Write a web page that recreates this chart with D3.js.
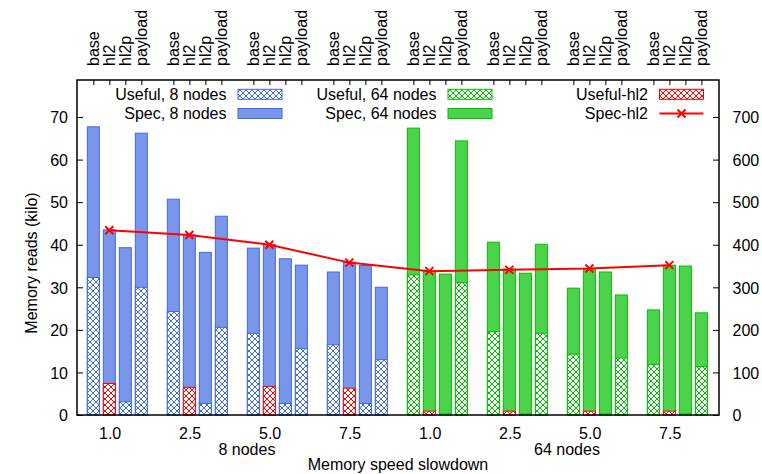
<!DOCTYPE html>
<html>
<head>
<meta charset="utf-8">
<script src="https://cdn.jsdelivr.net/npm/d3@7"></script>
<style>
  html, body { margin: 0; padding: 0; background: #fff; }
  svg text { font-family: "Liberation Sans", Arial, Helvetica, sans-serif; font-size: 16px; fill: #000; }
</style>
</head>
<body>
<svg id="chart" width="762" height="474"></svg>
<script>
// Memory reads per configuration, grouped by memory slowdown factor.
const slowdowns = ["1.0", "2.5", "5.0", "7.5"];
const variants = ["base", "hl2", "hl2p", "payload"];
const nodeGroups = ["8 nodes", "64 nodes"];

// 8 nodes: thousands of reads (left axis), rows = slowdown, cols = variant
const spec8 = [
  [67.7, 43.5, 39.3, 66.2],
  [50.7, 42.3, 38.2, 46.7],
  [39.2, 40.1, 36.7, 35.2],
  [33.6, 35.9, 35.1, 30.0]
];
const useful8 = [
  [32.3, 7.4, 3.1, 30.0],
  [24.3, 6.5, 2.7, 20.6],
  [19.2, 6.7, 2.7, 15.6],
  [16.5, 6.3, 2.7, 13.0]
];

// 64 nodes: thousands of reads (right axis)
const spec64 = [
  [674, 338, 331, 644],
  [406, 343, 333, 401],
  [298, 343, 336, 282],
  [247, 352, 350, 240]
];
const useful64 = [
  [329, 9, 3, 311],
  [196, 9, 3, 192],
  [143, 9, 3, 134],
  [119, 9, 3, 114]
];

// Spec-hl2 trend (right axis), 8 nodes then 64 nodes
const specHl2 = [434, 423, 400, 358, 338, 341, 344, 352];

const leftTicks = [0, 10, 20, 30, 40, 50, 60, 70];
const rightTicks = [0, 100, 200, 300, 400, 500, 600, 700];

const svg = d3.select("#chart");
const plot = { left: 77, right: 719, top: 80, bottom: 415 };

const colors = {
  blue: { line: "#4169e1", fill: "rgb(122,150,234)" },
  green: { line: "#00c000", fill: "rgb(76,211,76)" },
  red: { line: "#ff0000" }
};

// slot index: group * 5 + variant (one empty slot between groups)
const x = d3.scaleLinear().domain([-1.02, 39.1]).range([plot.left, plot.right]);
const yL = d3.scaleLinear().domain([0, 78.7]).range([plot.bottom, plot.top]);
const yR = d3.scaleLinear().domain([0, 787]).range([plot.bottom, plot.top]);
const barW = x(0.75) - x(0);

// crosshatch patterns
const defs = svg.append("defs");
function hatch(id, color) {
  const p = defs.append("pattern")
    .attr("id", id).attr("patternUnits", "userSpaceOnUse")
    .attr("width", 6).attr("height", 6);
  p.append("rect").attr("width", 6).attr("height", 6).attr("fill", "#fff");
  p.append("path").attr("d", "M0,0L6,6M6,0L0,6M-1,5L1,7M5,-1L7,1M-1,1L1,-1M5,7L7,5")
    .attr("stroke", color).attr("stroke-width", 1).attr("fill", "none");
}
hatch("hatch-blue", colors.blue.line);
hatch("hatch-green", colors.green.line);
hatch("hatch-red", colors.red.line);

// build bar records
const bars = [];
nodeGroups.forEach((ng, n) => {
  const spec = n === 0 ? spec8 : spec64;
  const useful = n === 0 ? useful8 : useful64;
  const y = n === 0 ? yL : yR;
  const col = n === 0 ? "blue" : "green";
  slowdowns.forEach((s, g) => {
    variants.forEach((v, i) => {
      bars.push({
        slot: (n * 4 + g) * 5 + i,
        spec: spec[g][i], useful: useful[g][i], y, col,
        variant: v
      });
    });
  });
});

const gBars = svg.append("g");
// speculative (total) reads
gBars.selectAll("rect.spec").data(bars).join("rect")
  .attr("class", "spec")
  .attr("x", d => x(d.slot) - barW / 2)
  .attr("width", barW)
  .attr("y", d => d.y(d.spec))
  .attr("height", d => d.y(0) - d.y(d.spec))
  .attr("fill", d => colors[d.col].fill)
  .attr("stroke", d => colors[d.col].line)
  .attr("stroke-width", 1);
// useful reads
gBars.selectAll("rect.useful").data(bars).join("rect")
  .attr("class", "useful")
  .attr("x", d => x(d.slot) - barW / 2)
  .attr("width", barW)
  .attr("y", d => d.y(d.useful))
  .attr("height", d => d.y(0) - d.y(d.useful))
  .attr("fill", d => d.variant === "hl2" ? "url(#hatch-red)" : `url(#hatch-${d.col})`)
  .attr("stroke", d => d.variant === "hl2" ? colors.red.line : colors[d.col].line)
  .attr("stroke-width", 1);

// Spec-hl2 line
const hl2Slots = d3.range(8).map(k => k * 5 + 1);
const linePts = specHl2.map((v, k) => [x(hl2Slots[k]), yR(v)]);
svg.append("path")
  .attr("d", d3.line()(linePts))
  .attr("fill", "none").attr("stroke", colors.red.line).attr("stroke-width", 2);
function cross(sel, cx, cy) {
  const r = 4;
  sel.append("path")
    .attr("d", `M${cx - r},${cy - r}L${cx + r},${cy + r}M${cx + r},${cy - r}L${cx - r},${cy + r}`)
    .attr("stroke", colors.red.line).attr("stroke-width", 2).attr("fill", "none");
}
linePts.forEach(p => cross(svg, p[0], p[1]));

// frame
svg.append("rect")
  .attr("x", plot.left).attr("y", plot.top)
  .attr("width", plot.right - plot.left).attr("height", plot.bottom - plot.top)
  .attr("fill", "none").attr("stroke", "#000").attr("stroke-width", 1.5);

// left axis (inward ticks)
const axL = svg.append("g").attr("transform", `translate(${plot.left},0)`)
  .call(d3.axisLeft(yL).tickValues(leftTicks).tickSize(-6).tickPadding(9));
// right axis (inward ticks)
const axR = svg.append("g").attr("transform", `translate(${plot.right},0)`)
  .call(d3.axisRight(yR).tickValues(rightTicks).tickSize(-6).tickPadding(13.5));
[axL, axR].forEach(a => {
  a.select(".domain").remove();
  a.selectAll("line").attr("stroke", "#000");
  a.selectAll("text").attr("font-size", null).attr("font-family", null).attr("dy", "0.36em");
});

// top axis: one tick per bar, variant names rotated
const topSlots = bars.map(d => d.slot);
const axT = svg.append("g").attr("transform", `translate(0,${plot.top})`)
  .call(d3.axisTop(x).tickValues(topSlots).tickSize(-5).tickFormat(""));
axT.select(".domain").remove();
axT.selectAll("line").attr("stroke", "#000");
svg.append("g").selectAll("text").data(bars).join("text")
  .attr("transform", d => `translate(${x(d.slot)},66) rotate(-90)`)
  .attr("dy", "0.36em")
  .text(d => d.variant);

// bottom labels: slowdown per group, then node count per half
const groupX = g => x(g * 5 + 1.05);
const bottomLabels = nodeGroups.flatMap(() => slowdowns);
svg.append("g").selectAll("text").data(bottomLabels).join("text")
  .attr("x", (d, i) => groupX(i)).attr("y", 439)
  .attr("text-anchor", "middle").text(d => d);
svg.append("g").selectAll("text").data(nodeGroups).join("text")
  .attr("x", (d, i) => x(i * 20 + 9.6)).attr("y", 455)
  .attr("text-anchor", "middle").text(d => d);
svg.append("text").attr("x", (plot.left + plot.right) / 2).attr("y", 469.5)
  .attr("text-anchor", "middle").text("Memory speed slowdown");
svg.append("text")
  .attr("transform", "translate(31,263) rotate(-90)")
  .attr("text-anchor", "middle").attr("dy", "0.36em")
  .text("Memory reads (kilo)");

// legend
const legend = [
  { label: "Useful, 8 nodes", tx: 226.5, row: 0, kind: "hatch", col: "blue" },
  { label: "Spec, 8 nodes", tx: 226.5, row: 1, kind: "solid", col: "blue" },
  { label: "Useful, 64 nodes", tx: 436.5, row: 0, kind: "hatch", col: "green" },
  { label: "Spec, 64 nodes", tx: 436.5, row: 1, kind: "solid", col: "green" },
  { label: "Useful-hl2", tx: 648, row: 0, kind: "hatch", col: "red" },
  { label: "Spec-hl2", tx: 648, row: 1, kind: "line", col: "red" }
];
const lg = svg.append("g");
legend.forEach(e => {
  const cy = 94.3 + e.row * 19.2;
  lg.append("text").attr("x", e.tx).attr("y", cy).attr("dy", "0.36em")
    .attr("text-anchor", "end").text(e.label);
  const x0 = e.tx + 11.5, w = 44;
  if (e.kind === "line") {
    lg.append("line").attr("x1", x0).attr("x2", x0 + w).attr("y1", cy).attr("y2", cy)
      .attr("stroke", colors.red.line).attr("stroke-width", 2);
    cross(lg, x0 + w / 2, cy);
  } else {
    lg.append("rect").attr("x", x0).attr("y", cy - 5).attr("width", w).attr("height", 10)
      .attr("fill", e.kind === "hatch" ? `url(#hatch-${e.col})` : colors[e.col].fill)
      .attr("stroke", colors[e.col].line).attr("stroke-width", 1);
  }
});
</script>
</body>
</html>
